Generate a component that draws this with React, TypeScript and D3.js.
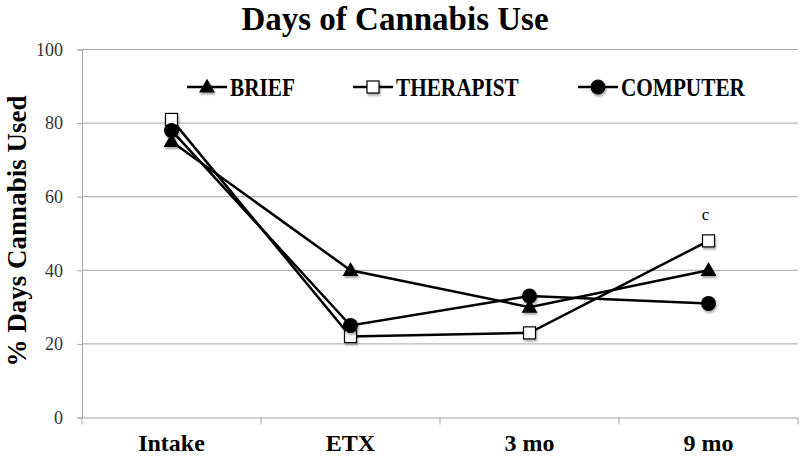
import React, { useEffect, useRef } from 'react'
import * as d3 from 'd3'

const categories = ['Intake', 'ETX', '3 mo', '9 mo']
const seriesNames = ['BRIEF', 'THERAPIST', 'COMPUTER']
const brief = [75, 40, 30, 40]
const therapist = [81, 22, 23, 48]
const computer = [78, 25, 33, 31]
const yTicks = [0, 20, 40, 60, 80, 100]

const App = () => {
  const ref = useRef(null)

  useEffect(() => {
    draw()
  }, [])

  const draw = () => {
    const width = 800
    const height = 456
    const margin = { top: 49.5, right: 2, bottom: 38.5, left: 82 }
    const font = '"Liberation Serif", "DejaVu Serif", serif'

    d3.select(ref.current).selectAll('*').remove()
    const svg = d3.select(ref.current).append('svg')
      .attr('width', width)
      .attr('height', height)
      .style('display', 'block')

    const defs = svg.append('defs')
    const shadow = defs.append('filter').attr('id', 'shadow')
      .attr('x', '-50%').attr('y', '-50%').attr('width', '200%').attr('height', '200%')
    shadow.append('feDropShadow')
      .attr('dx', 1).attr('dy', 2).attr('stdDeviation', 1.2)
      .attr('flood-color', '#000').attr('flood-opacity', 0.35)

    const x = d3.scaleBand()
      .domain(categories)
      .range([margin.left, width - margin.right])

    const y = d3.scaleLinear()
      .domain([0, 100])
      .range([height - margin.bottom, margin.top])

    // grid lines
    svg.append('g')
      .selectAll('line')
      .data(yTicks.filter(d => d > 0))
      .enter().append('line')
      .attr('x1', margin.left)
      .attr('x2', width - margin.right)
      .attr('y1', d => y(d))
      .attr('y2', d => y(d))
      .attr('stroke', '#a6a6a6')
      .attr('stroke-width', 1)

    // y axis
    const yAxis = svg.append('g')
      .attr('transform', `translate(${margin.left},0)`)
      .call(d3.axisLeft(y).tickValues(yTicks).tickSize(5).tickPadding(14))
    yAxis.select('.domain').attr('stroke', '#a6a6a6')
    yAxis.selectAll('.tick line').attr('stroke', '#a6a6a6')
    yAxis.selectAll('text')
      .attr('font-family', font)
      .attr('font-size', 18)
      .attr('fill', '#333')

    // x axis
    const xAxis = svg.append('g')
      .attr('transform', `translate(0,${y(0)})`)
      .call(d3.axisBottom(x).tickSize(0))
    xAxis.select('.domain').attr('stroke', '#a6a6a6')
    xAxis.selectAll('text')
      .attr('y', 33)
      .attr('dy', 0)
      .attr('font-family', font)
      .attr('font-size', 24)
      .attr('font-weight', 'bold')
      .attr('fill', '#000')
    const bounds = categories.map(c => x(c)).concat([x.range()[1]])
    svg.append('g')
      .selectAll('line')
      .data(bounds)
      .enter().append('line')
      .attr('x1', d => d)
      .attr('x2', d => d)
      .attr('y1', y(0))
      .attr('y2', y(0) + 7)
      .attr('stroke', '#a6a6a6')

    const cx = c => x(c) + x.bandwidth() / 2
    const line = d3.line()
      .x((d, i) => cx(categories[i]))
      .y(d => y(d))

    const series = [brief, therapist, computer]
    series.forEach(vals => {
      svg.append('path')
        .datum(vals)
        .attr('d', line)
        .attr('fill', 'none')
        .attr('stroke', '#000')
        .attr('stroke-width', 2.5)
    })

    const tri = d3.symbol().type(d3.symbolTriangle).size(110)
    const marker = (g, name, px, py) => {
      if (name === 'BRIEF') {
        g.append('path')
          .attr('d', tri())
          .attr('transform', `translate(${px},${py + 1})`)
          .attr('fill', '#000')
          .attr('filter', 'url(#shadow)')
      } else if (name === 'THERAPIST') {
        g.append('rect')
          .attr('x', px - 6).attr('y', py - 6)
          .attr('width', 12).attr('height', 12)
          .attr('fill', '#fff')
          .attr('stroke', '#000')
          .attr('stroke-width', 1.2)
          .attr('filter', 'url(#shadow)')
      } else {
        g.append('circle')
          .attr('cx', px).attr('cy', py)
          .attr('r', 7.5)
          .attr('fill', '#000')
          .attr('filter', 'url(#shadow)')
      }
    }

    const markers = svg.append('g')
    seriesNames.forEach((name, si) => {
      series[si].forEach((v, i) => marker(markers, name, cx(categories[i]), y(v)))
    })

    // annotation
    svg.append('text')
      .attr('x', cx('9 mo') - 3)
      .attr('y', y(therapist[3]) - 21)
      .attr('text-anchor', 'middle')
      .attr('font-family', font)
      .attr('font-size', 17)
      .text('c')

    // legend
    const legendX = [187, 353, 578]
    const legend = svg.append('g')
    seriesNames.forEach((name, i) => {
      const lx = legendX[i]
      const ly = 87
      legend.append('line')
        .attr('x1', lx).attr('x2', lx + 40)
        .attr('y1', ly).attr('y2', ly)
        .attr('stroke', '#000').attr('stroke-width', 2.5)
      marker(legend, name, lx + 20, ly)
      legend.append('text')
        .attr('transform', `translate(${lx + 43},${ly}) scale(0.85,1)`)
        .attr('dy', '0.35em')
        .attr('font-family', font)
        .attr('font-size', 25)
        .attr('font-weight', 'bold')
        .text(name)
    })

    // title
    svg.append('text')
      .attr('x', 395)
      .attr('y', 30)
      .attr('text-anchor', 'middle')
      .attr('font-family', font)
      .attr('font-size', 33)
      .attr('font-weight', 'bold')
      .text('Days of Cannabis Use')

    // y label
    svg.append('text')
      .attr('transform', `translate(26,${231}) rotate(-90)`)
      .attr('text-anchor', 'middle')
      .attr('font-family', font)
      .attr('font-size', 27)
      .attr('font-weight', 'bold')
      .text('% Days Cannabis Used')
  }

  return (
    <div style={{ position: 'absolute', left: 0, top: 0 }}>
      <div ref={ref}></div>
    </div>
  )
}

export default App
